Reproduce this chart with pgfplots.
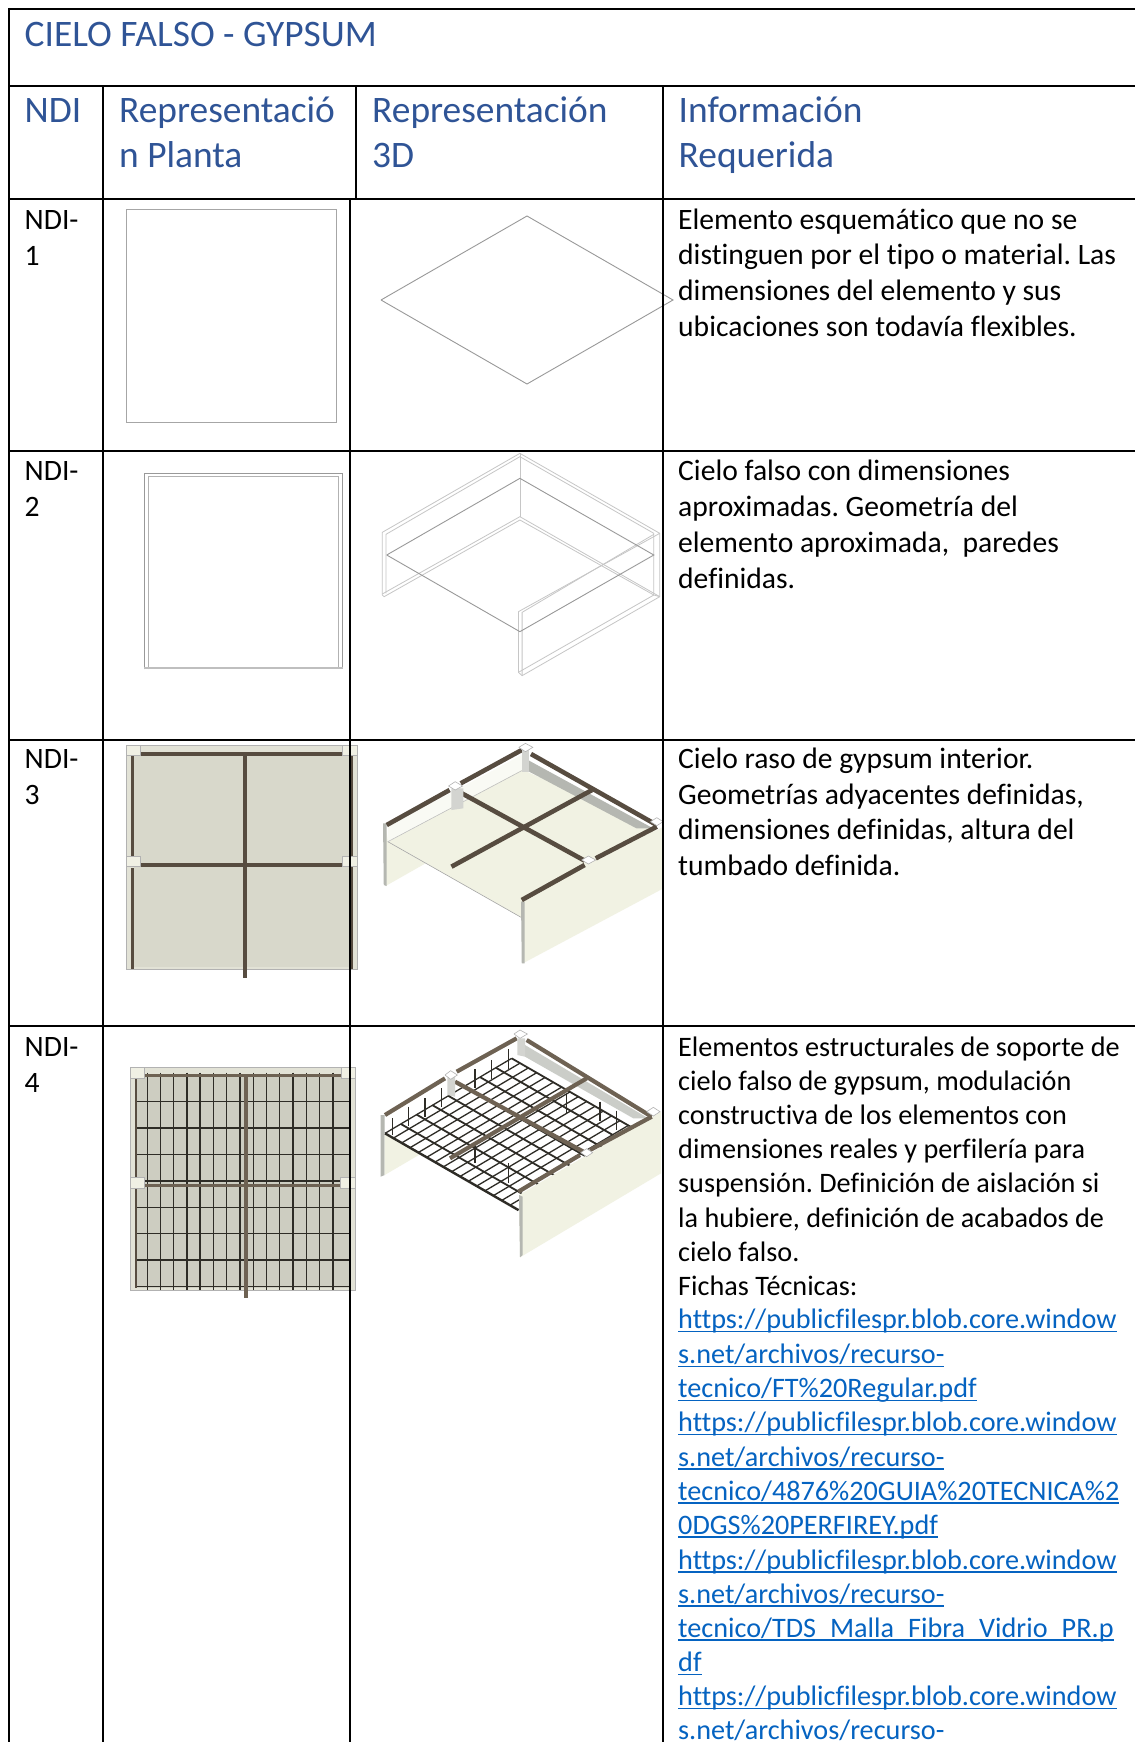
\documentclass[border=0pt]{standalone}
\usepackage{pgfplots}
\pgfplotsset{compat=1.18}
\usepackage{fontspec}
\setmainfont{Carlito}[RawFeature={-liga}]
\definecolor{hd}{HTML}{2F5496}
\definecolor{lk}{HTML}{0563C1}
\definecolor{pn}{HTML}{D8D8CB}
\definecolor{pe}{HTML}{E2E2D6}
\definecolor{sq}{HTML}{F0F0E4}
\definecolor{bm}{HTML}{574C40}
\definecolor{bl}{HTML}{6E6253}
\definecolor{cr}{HTML}{F1F2E3}
\definecolor{gw}{HTML}{B5B7B1}
\definecolor{gr}{HTML}{2E2C26}
\pgfplotsset{
 z2/.style={x filter/.expression={100+x/2.703},y filter/.expression={440+y/3}},
 z3/.style={x filter/.expression={100+x/2.703},y filter/.expression={730+y/3}},
 z4/.style={x filter/.expression={110+x/3},y filter/.expression={1030+y/3}},
 z5/.style={x filter/.expression={370+x/3},y filter/.expression={1020+y/3}},
 f/.style={fill=#1,draw=none,no marks,forget plot},
 o/.style={fill=#1,draw=gray!60,line width=0.6pt,no marks,forget plot},
 l/.style={draw=#1,no marks,forget plot,line cap=butt,line join=miter},
}
\newcommand{\Tx}[3]{\node[anchor=base west,inner sep=0pt,text=black,yshift=-1pt] at (axis cs:#1,#2) {\fontsize{29.6}{34}\selectfont\frenchspacing #3};}
\newcommand{\Tb}[3]{\node[anchor=base west,inner sep=0pt,text=black,yshift=-1pt] at (axis cs:#1,#2) {\fontsize{28.2}{34}\selectfont\frenchspacing #3};}
\newcommand{\Hd}[3]{\node[anchor=base west,inner sep=0pt,text=hd,yshift=-1pt] at (axis cs:#1,#2) {\fontsize{37.4}{44}\selectfont #3};}
\newcommand{\Lk}[2]{\node[anchor=base west,inner sep=0pt,text=lk,yshift=-0.5pt] at (axis cs:678,#1) {\fontsize{28.2}{34}\selectfont\sbox0{#2}\rlap{\usebox0}\rule[-3.5pt]{\wd0}{1.5pt}};}
\begin{document}
\begin{tikzpicture}
\path[use as bounding box,clip] (0,0) rectangle (1135pt,1742pt);
\begin{axis}[scale only axis,width=1135pt,height=1742pt,xmin=0,xmax=1135,ymin=0,ymax=1742,y dir=reverse,hide axis,clip=true,at={(0,0)},anchor=south west]
% background
\addplot[f=white] coordinates {(0,0)(1135,0)(1135,1742)(0,1742)};

% NDI-1
\addplot[l=gray!70,line width=0.9pt] coordinates {(126,209)(336.6,209)(336.6,422.7)(126,422.7)(126,209)};
\addplot[l=gray!80,line width=0.9pt] coordinates {(381,300)(527,216)(673,300)(527,384)(381,300)};

% NDI-2 plan
\addplot[z2,l=gray!80,line width=0.8pt] coordinates {(120,688)(120,100)(656,100)(656,688)};
\addplot[z2,l=gray!60,line width=0.8pt] coordinates {(130,688)(130,110)(645,110)(645,688)};
\addplot[z2,l=gray!50,line width=1.2pt] coordinates {(120,684)(656,684)};
% NDI-2 3D
\addplot[z2,l=gray!45,line width=0.8pt] coordinates {(763,465)(763,277)(1135,40)(1513,280)(1513,470)(1141,707)(1131,697)(1131,515)(1513,280)};
\addplot[z2,l=gray!45,line width=0.8pt] coordinates {(773,460)(773,283)(1135,50)(1497,280)(1497,465)(1131,697)};
\addplot[z2,l=gray!45,line width=0.8pt] coordinates {(763,465)(768,470)(1135,240)(1497,465)(1513,470)};
\addplot[z2,l=gray!45,line width=0.8pt] coordinates {(763,462)(1135,230)(1513,470)};
\addplot[z2,l=gray!45,line width=0.8pt] coordinates {(1135,40)(1135,230)};
\addplot[z2,l=gray!45,line width=0.8pt] coordinates {(1141,707)(1141,517)(1497,283)};
\addplot[z2,l=gray!80,line width=0.9pt] coordinates {(775,345)(1135,115)(1497,345)(1135,575)(775,345)};

% NDI-3 plan
\addplot[z3,o=pe] coordinates {(72,45)(695,45)(695,718)(72,718)(72,45)};
\addplot[z3,f=pn] coordinates {(92,75)(672,75)(672,712)(92,712)};
\addplot[z3,l=bm,line width=3.6pt] coordinates {(112,72)(658,72)};
\addplot[z3,l=bm,line width=3.4pt] coordinates {(108,405)(658,405)};
\addplot[z3,l=bm,line width=3.8pt] coordinates {(392,75)(392,745)};
\addplot[z3,l=bm,line width=3.8pt] coordinates {(88,78)(88,378)};
\addplot[z3,l=bm,line width=3.8pt] coordinates {(88,415)(88,716)};
\addplot[z3,l=bm,line width=3.8pt] coordinates {(680,78)(680,718)};
\addplot[z3,o=sq] coordinates {(72,45)(110,45)(110,76)(72,76)(72,45)};
\addplot[z3,o=sq] coordinates {(655,45)(695,45)(695,76)(655,76)(655,45)};
\addplot[z3,o=sq] coordinates {(72,378)(110,378)(110,410)(72,410)(72,378)};
\addplot[z3,o=sq] coordinates {(655,378)(695,378)(695,410)(655,410)(655,378)};

% NDI-3 3D
\addplot[z3,f=cr] coordinates {(778,335)(1140,118)(1505,300)(1143,565)};
\addplot[z3,f=cr!40!white] coordinates {(778,290)(1140,75)(1140,120)(778,335)};
\addplot[z3,f=gw] coordinates {(1160,92)(1495,295)(1450,295)(1160,125)};
\addplot[z3,f=cr] coordinates {(772,285)(772,468)(880,400)(778,335)};
\addplot[z3,f=gw] coordinates {(765,280)(775,280)(775,468)(767,465)};
\addplot[z3,l=gray!70,line width=0.6pt] coordinates {(778,335)(1143,565)};
\addplot[z3,l=gray!50,line width=0.6pt] coordinates {(778,335)(1140,122)};
\addplot[z3,f=cr] coordinates {(1143,515)(1523,290)(1523,475)(1143,700)};
\addplot[z3,f=gw] coordinates {(1138,515)(1148,515)(1148,700)(1140,700)};
\addplot[z3,l=bm,line width=4.6pt] coordinates {(775,285)(945,180)};
\addplot[z3,l=bm,line width=4.6pt] coordinates {(975,160)(1140,60)};
\addplot[z3,l=bm,line width=4.6pt] coordinates {(1165,72)(1505,285)};
\addplot[z3,l=bm,line width=4.6pt] coordinates {(970,185)(1310,392)};
\addplot[z3,l=bm,line width=4.6pt] coordinates {(1330,180)(950,410)};
\addplot[z3,l=bm,line width=4.6pt] coordinates {(1140,510)(1310,405)};
\addplot[z3,l=bm,line width=4.6pt] coordinates {(1340,385)(1505,290)};
\addplot[z3,f=gw!60!white] coordinates {(950,175)(982,175)(982,235)(950,240)};
\addplot[z3,f=gw!60!white] coordinates {(1140,60)(1160,60)(1160,125)(1140,125)};
\addplot[z3,o=white] coordinates {(942,168)(960,155)(980,168)(960,180)(942,168)};
\addplot[z3,o=white] coordinates {(1132,52)(1150,40)(1170,52)(1150,65)(1132,52)};
\addplot[z3,o=white] coordinates {(1302,390)(1320,378)(1340,390)(1320,402)(1302,390)};
\addplot[z3,o=white] coordinates {(1488,275)(1505,263)(1522,275)(1505,287)(1488,275)};

% NDI-4 plan
\addplot[z4,o=pe] coordinates {(60,112)(737,112)(737,780)(60,780)(60,112)};
\addplot[z4,f=pn!95!black] coordinates {(82,140)(718,140)(718,775)(82,775)};
\addplot[z4,l=gr,line width=1.3pt] coordinates {(112,128)(112,780)};
\addplot[z4,l=gr,line width=1.3pt] coordinates {(152,128)(152,780)};
\addplot[z4,l=gr,line width=1.3pt] coordinates {(191,128)(191,780)};
\addplot[z4,l=gr,line width=1.3pt] coordinates {(231,128)(231,780)};
\addplot[z4,l=gr,line width=1.3pt] coordinates {(270,128)(270,780)};
\addplot[z4,l=gr,line width=1.3pt] coordinates {(310,128)(310,780)};
\addplot[z4,l=gr,line width=1.3pt] coordinates {(350,128)(350,780)};
\addplot[z4,l=gr,line width=1.3pt] coordinates {(390,128)(390,780)};
\addplot[z4,l=gr,line width=1.3pt] coordinates {(430,128)(430,780)};
\addplot[z4,l=gr,line width=1.3pt] coordinates {(469,128)(469,780)};
\addplot[z4,l=gr,line width=1.3pt] coordinates {(509,128)(509,780)};
\addplot[z4,l=gr,line width=1.3pt] coordinates {(549,128)(549,780)};
\addplot[z4,l=gr,line width=1.3pt] coordinates {(589,128)(589,780)};
\addplot[z4,l=gr,line width=1.3pt] coordinates {(629,128)(629,780)};
\addplot[z4,l=gr,line width=1.3pt] coordinates {(669,128)(669,780)};
\addplot[z4,l=gr,line width=1.4pt] coordinates {(82,214)(718,214)};
\addplot[z4,l=gr,line width=1.4pt] coordinates {(82,294)(718,294)};
\addplot[z4,l=gr,line width=1.4pt] coordinates {(82,373)(718,373)};
\addplot[z4,l=gr,line width=1.4pt] coordinates {(82,453)(718,453)};
\addplot[z4,l=gr,line width=1.4pt] coordinates {(82,533)(718,533)};
\addplot[z4,l=gr,line width=1.4pt] coordinates {(82,611)(718,611)};
\addplot[z4,l=gr,line width=1.4pt] coordinates {(82,690)(718,690)};
\addplot[z4,l=gr,line width=1.6pt] coordinates {(78,770)(718,770)};
\addplot[z4,l=bl,line width=3pt] coordinates {(105,135)(695,135)};
\addplot[z4,l=bl,line width=3pt] coordinates {(105,466)(692,466)};
\addplot[z4,l=bl,line width=3.8pt] coordinates {(408,140)(408,805)};
\addplot[z4,l=bm,line width=2.6pt] coordinates {(78,145)(78,775)};
\addplot[z4,o=sq] coordinates {(60,112)(104,112)(104,145)(60,145)(60,112)};
\addplot[z4,o=sq] coordinates {(695,112)(737,112)(737,145)(695,145)(695,112)};
\addplot[z4,o=sq] coordinates {(60,442)(104,442)(104,475)(60,475)(60,442)};
\addplot[z4,o=sq] coordinates {(692,442)(737,442)(737,475)(692,475)(692,442)};

% NDI-4 3D : back strip
\addplot[z5,f=gw!70!white] coordinates {(465,75)(835,295)(790,295)(465,110)};
\addplot[z5,f=gw] coordinates {(32,285)(44,285)(44,465)(32,470)};
\addplot[z5,f=cr] coordinates {(44,340)(44,465)(150,403)};
% grid, family along the long edge
\addplot[z5,l=gr,line width=2.4pt] coordinates {(45,340)(445,570)};
\addplot[z5,l=gr,line width=1.8pt] coordinates {(92.5,311.9)(492.5,541.9)};
\addplot[z5,l=gr,line width=1.8pt] coordinates {(140,283.8)(540,513.8)};
\addplot[z5,l=gr,line width=1.8pt] coordinates {(187.5,255.6)(587.5,485.6)};
\addplot[z5,l=gr,line width=1.8pt] coordinates {(235,227.5)(635,457.5)};
\addplot[z5,l=gr,line width=1.8pt] coordinates {(282.5,199.4)(682.5,429.4)};
\addplot[z5,l=gr,line width=1.8pt] coordinates {(330,171.3)(730,401.3)};
\addplot[z5,l=gr,line width=1.8pt] coordinates {(377.5,143.1)(777.5,373.1)};
\addplot[z5,l=gr,line width=1.8pt] coordinates {(425,115)(825,345)};
% grid, cross family
\addplot[z5,l=gr,line width=1.3pt] coordinates {(45,340)(425,115)};
\addplot[z5,l=gr,line width=1.3pt] coordinates {(70,354.4)(450,129.4)};
\addplot[z5,l=gr,line width=1.3pt] coordinates {(95,368.8)(475,143.8)};
\addplot[z5,l=gr,line width=1.3pt] coordinates {(120,383.1)(500,158.1)};
\addplot[z5,l=gr,line width=1.3pt] coordinates {(145,397.5)(525,172.5)};
\addplot[z5,l=gr,line width=1.3pt] coordinates {(170,411.9)(550,186.9)};
\addplot[z5,l=gr,line width=1.3pt] coordinates {(195,426.3)(575,201.3)};
\addplot[z5,l=gr,line width=1.3pt] coordinates {(220,440.6)(600,215.6)};
\addplot[z5,l=gr,line width=1.3pt] coordinates {(245,455)(625,230)};
\addplot[z5,l=gr,line width=1.3pt] coordinates {(270,469.4)(650,244.4)};
\addplot[z5,l=gr,line width=1.3pt] coordinates {(295,483.8)(675,258.8)};
\addplot[z5,l=gr,line width=1.3pt] coordinates {(320,498.1)(700,273.1)};
\addplot[z5,l=gr,line width=1.3pt] coordinates {(345,512.5)(725,287.5)};
\addplot[z5,l=gr,line width=1.3pt] coordinates {(370,526.9)(750,301.9)};
\addplot[z5,l=gr,line width=1.3pt] coordinates {(395,541.3)(775,316.3)};
\addplot[z5,l=gr,line width=1.3pt] coordinates {(420,555.6)(800,330.6)};
\addplot[z5,l=gr,line width=1.3pt] coordinates {(445,570)(825,345)};
% hangers
\addplot[z5,l=gr,line width=1.2pt] coordinates {(68,295)(68,345)};
\addplot[z5,l=gr,line width=1.2pt] coordinates {(115,260)(115,318)};
\addplot[z5,l=gr,line width=1.2pt] coordinates {(165,235)(165,292)};
\addplot[z5,l=gr,line width=1.2pt] coordinates {(215,205)(215,262)};
\addplot[z5,l=gr,line width=1.2pt] coordinates {(315,148)(315,205)};
\addplot[z5,l=gr,line width=1.2pt] coordinates {(365,120)(365,178)};
\addplot[z5,l=gr,line width=1.2pt] coordinates {(415,88)(415,146)};
\addplot[z5,l=gr,line width=1.2pt] coordinates {(590,222)(590,280)};
\addplot[z5,l=gr,line width=1.2pt] coordinates {(690,245)(690,302)};
\addplot[z5,l=gr,line width=1.2pt] coordinates {(740,272)(740,330)};
\addplot[z5,l=gr,line width=1.2pt] coordinates {(315,370)(315,430)};
\addplot[z5,l=gr,line width=1.2pt] coordinates {(415,430)(415,490)};
% front wall
\addplot[z5,f=cr] coordinates {(447,525)(873,275)(873,460)(450,712)};
\addplot[z5,f=gw] coordinates {(447,525)(458,530)(458,705)(450,712)};
% beams
\addplot[z5,l=bl,line width=4.2pt] coordinates {(45,285)(225,175)};
\addplot[z5,l=bl,line width=4.2pt] coordinates {(260,155)(440,55)};
\addplot[z5,l=bl,line width=4.2pt] coordinates {(470,60)(845,290)};
\addplot[z5,l=bl,line width=4.2pt] coordinates {(255,185)(640,395)};
\addplot[z5,l=bl,line width=4.2pt] coordinates {(650,175)(240,415)};
\addplot[z5,l=bl,line width=4.2pt] coordinates {(445,515)(630,405)};
\addplot[z5,l=bl,line width=4.2pt] coordinates {(660,390)(845,290)};
\addplot[z5,f=gw!60!white] coordinates {(232,170)(255,170)(255,230)(232,225)};
\addplot[z5,f=gw!60!white] coordinates {(442,55)(465,55)(465,110)(442,105)};
\addplot[z5,o=white] coordinates {(225,165)(242,152)(262,165)(242,178)(225,165)};
\addplot[z5,o=white] coordinates {(432,42)(450,30)(472,42)(450,55)(432,42)};
\addplot[z5,o=white] coordinates {(632,398)(650,386)(668,398)(650,410)(632,398)};
\addplot[z5,o=white] coordinates {(830,275)(850,262)(870,275)(850,288)(830,275)};

% table rules
\addplot[l=black,line width=2pt] coordinates {(8,9)(1135,9)};
\addplot[l=black,line width=2pt] coordinates {(8,85.7)(1135,85.7)};
\addplot[l=black,line width=2pt] coordinates {(8,198.7)(1135,198.7)};
\addplot[l=black,line width=2pt] coordinates {(8,451)(1135,451)};
\addplot[l=black,line width=2pt] coordinates {(8,739.5)(1135,739.5)};
\addplot[l=black,line width=2pt] coordinates {(8,1026)(1135,1026)};
\addplot[l=black,line width=2pt] coordinates {(9,8)(9,1742)};
\addplot[l=black,line width=2pt] coordinates {(102.7,85.7)(102.7,1742)};
\addplot[l=black,line width=1.6pt] coordinates {(356,85.7)(356,198.7)};
\addplot[l=black,line width=2pt] coordinates {(350.3,198.7)(350.3,1742)};
\addplot[l=black,line width=2pt] coordinates {(663,85.7)(663,1742)};

% text
\Hd{24.5}{46}{CIELO FALSO - GYPSUM}
\Hd{24.5}{121.7}{NDI}
\Hd{119}{121.7}{Representació}
\Hd{119}{166.5}{n Planta}
\Hd{372}{121.7}{Representación}
\Hd{372}{166.5}{3D}
\Hd{678.5}{121.7}{Información}
\Hd{678.5}{166.5}{Requerida}
\Tx{24.5}{228}{NDI-}
\Tx{24.5}{264}{1}
\Tx{24.5}{479.5}{NDI-}
\Tx{24.5}{515.5}{2}
\Tx{24.5}{767.5}{NDI-}
\Tx{24.5}{803}{3}
\Tx{24.5}{1055.5}{NDI-}
\Tx{24.5}{1091}{4}
\Tx{678}{228}{Elemento esquemático que no se}
\Tx{678}{263.5}{distinguen por el tipo o material. Las}
\Tx{678}{299.3}{dimensiones del elemento y sus}
\Tx{678}{335}{ubicaciones son todavía flexibles.}
\Tx{678}{479.5}{Cielo falso con dimensiones}
\Tx{678}{515.5}{aproximadas. Geometría del}
\Tx{678}{551}{elemento aproximada,\ \ paredes}
\Tx{678}{587}{definidas.}
\Tx{678}{767.5}{Cielo raso de gypsum interior.}
\Tx{678}{803}{Geometrías adyacentes definidas,}
\Tx{678}{838.5}{dimensiones definidas, altura del}
\Tx{678}{874}{tumbado definida.}
\Tb{678}{1055}{Elementos estructurales de soporte de}
\Tb{678}{1089}{cielo falso de gypsum, modulación}
\Tb{678}{1123}{constructiva de los elementos con}
\Tb{678}{1157.3}{dimensiones reales y perfilería para}
\Tb{678}{1191.8}{suspensión. Definición de aislación si}
\Tb{678}{1226}{la hubiere, definición de acabados de}
\Tb{678}{1260}{cielo falso.}
\Tb{678}{1294}{Fichas Técnicas:}
\Lk{1328}{https://publicfilespr.blob.core.window}
\Lk{1363}{s.net/archivos/recurso-}
\Lk{1397}{tecnico/FT\%20Regular.pdf}
\Lk{1431}{https://publicfilespr.blob.core.window}
\Lk{1465.5}{s.net/archivos/recurso-}
\Lk{1499.5}{tecnico/4876\%20GUIA\%20TECNICA\%2}
\Lk{1533.6}{0DGS\%20PERFIREY.pdf}
\Lk{1568.6}{https://publicfilespr.blob.core.window}
\Lk{1602.7}{s.net/archivos/recurso-}
\Lk{1636.8}{tecnico/TDS\_Malla\_Fibra\_Vidrio\_PR.p}
\Lk{1671}{df}
\Lk{1705}{https://publicfilespr.blob.core.window}
\Lk{1739}{s.net/archivos/recurso-}
\end{axis}
\end{tikzpicture}
\end{document}
